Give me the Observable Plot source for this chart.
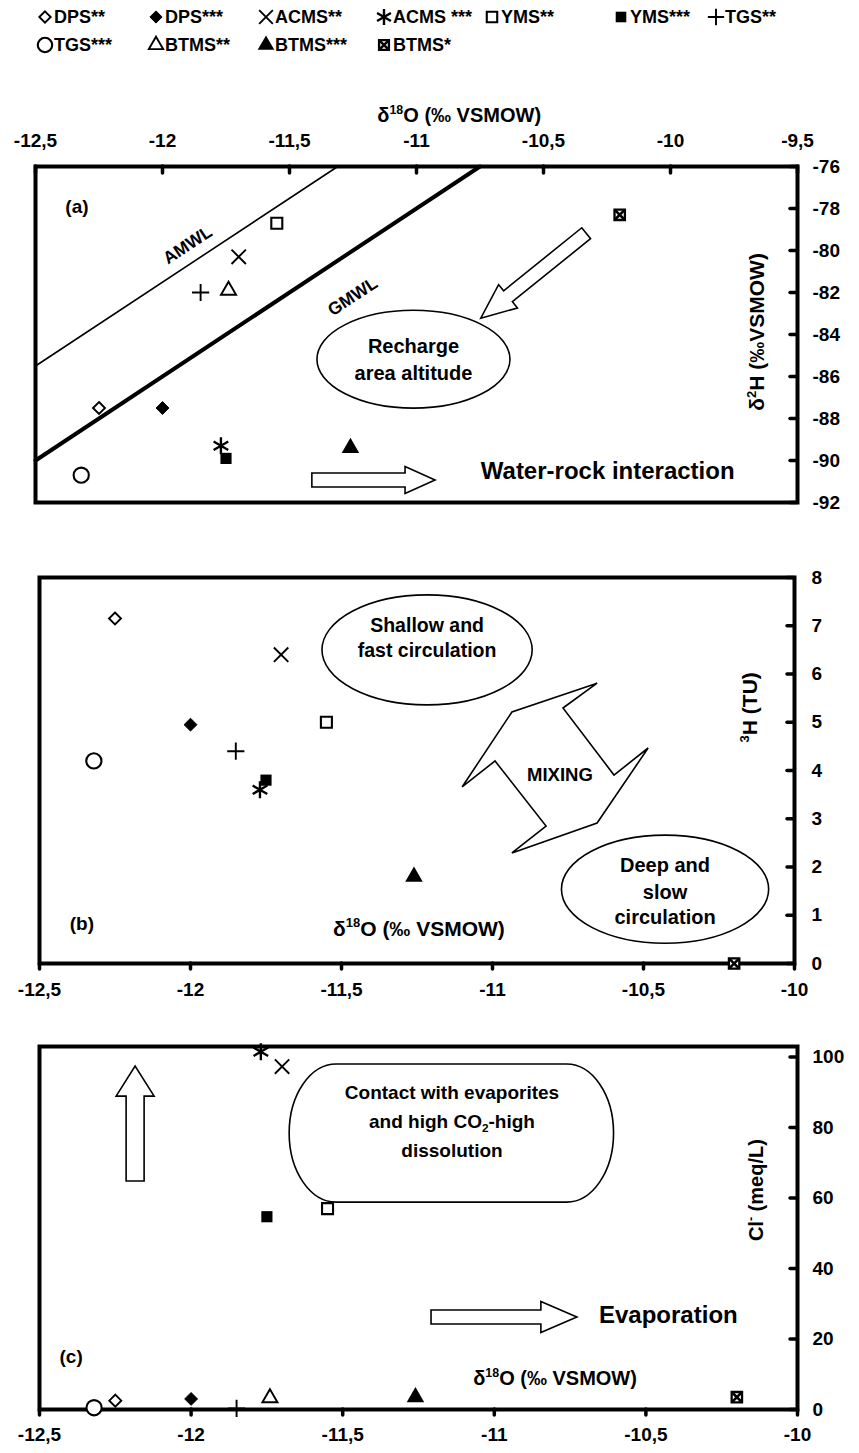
<!DOCTYPE html>
<html>
<head>
<meta charset="utf-8">
<script src="https://cdn.jsdelivr.net/npm/d3@7"></script>
<script src="https://cdn.jsdelivr.net/npm/@observablehq/plot@0.6"></script>
<style>
  html, body { margin: 0; padding: 0; background: #fff; }
  body { font-family: "Liberation Sans", Arial, Helvetica, sans-serif; }
  #root { position: relative; width: 859px; height: 1453px; overflow: hidden; }
  .panel { position: absolute; left: 0; }
  .lg { position: absolute; display: flex; align-items: center; font-weight: bold; font-size: 18px; white-space: pre; color: #000; }
  .lg svg { margin-right: 2px; overflow: visible; }
</style>
</head>
<body>
<div id="root"></div>
<script>
// ---------------- DATA ----------------
const series   = ["DPS**", "DPS***", "ACMS**", "ACMS ***", "YMS**", "YMS***", "TGS**", "TGS***", "BTMS**", "BTMS***", "BTMS*"];
const d18O     = [-12.25, -12.00, -11.70, -11.77, -11.55, -11.75, -11.85, -12.32, -11.74, -11.26, -10.20];
const d2H      = [-87.5, -87.5, -80.3, -89.3, -78.7, -89.9, -82.0, -90.7, -81.9, -89.4, -78.3];
const tritium  = [7.15, 4.95, 6.4, 3.6, 5.0, 3.8, 4.4, 4.2, null, 1.8, 0];
const chloride = [2.5, 3.0, 97.3, 101.5, 57.0, 54.7, 0.3, 0.5, 3.3, 3.5, 3.5];

// meteoric water lines (end points, ‰)
const amwlO = [-12.5, -11.31], amwlH = [-85.5, -76];
const gmwlO = [-12.5, -10.75], gmwlH = [-90, -76];

// tick values
const xTicksA = [-12.5, -12, -11.5, -11, -10.5, -10, -9.5];
const yTicksA = [-92, -90, -88, -86, -84, -82, -80, -78, -76];
const xTicksBC = [-12.5, -12, -11.5, -11, -10.5, -10];
const yTicksB = [0, 1, 2, 3, 4, 5, 6, 7, 8];
const yTicksC = [0, 20, 40, 60, 80, 100];

// ---------------- STYLES ----------------
const FONT = "Liberation Sans, Arial, Helvetica, sans-serif";
const seriesStyle = {
  "DPS**":    [{symbol: "diamond2", r: 5.4, fill: "white", stroke: "black", strokeWidth: 1.9}],
  "DPS***":   [{symbol: "diamond2", r: 5.8, fill: "black", stroke: "black", strokeWidth: 1}],
  "ACMS**":   [{symbol: "times", r: 6.6, fill: "none", stroke: "black", strokeWidth: 1.9}],
  "ACMS ***": [{symbol: "asterisk", r: 8, fill: "none", stroke: "black", strokeWidth: 2.4}],
  "YMS**":    [{symbol: "square2", r: 7, fill: "white", stroke: "black", strokeWidth: 2.1}],
  "YMS***":   [{symbol: "square", r: 6.3, fill: "black", stroke: "none"}],
  "TGS**":    [{symbol: "plus", r: 5.6, fill: "none", stroke: "black", strokeWidth: 1.9}],
  "TGS***":   [{symbol: "circle", r: 7.6, fill: "white", stroke: "black", strokeWidth: 2.1}],
  "BTMS**":   [{symbol: "triangle2", r: 7.2, fill: "white", stroke: "black", strokeWidth: 1.9}],
  "BTMS***":  [{symbol: "triangle", r: 6.5, fill: "black", stroke: "none"}],
  "BTMS*":    [{symbol: "square2", r: 6.6, fill: "white", stroke: "black", strokeWidth: 2.3},
               {symbol: "times", r: 4.8, fill: "none", stroke: "black", strokeWidth: 2.6}]
};
const d3Sym = {
  diamond2: d3.symbolDiamond2, times: d3.symbolTimes, asterisk: d3.symbolAsterisk,
  square2: d3.symbolSquare2, square: d3.symbolSquare, plus: d3.symbolPlus,
  circle: d3.symbolCircle, triangle2: d3.symbolTriangle2, triangle: d3.symbolTriangle
};
const fmt = d => String(d).replace(".", ",");

// ---------------- HELPERS ----------------
function parseRich(s) {
  const re = /([\^_])\{([^}]*)\}/g; const out = []; let last = 0, m;
  while ((m = re.exec(s))) {
    if (m.index > last) out.push({t: s.slice(last, m.index), k: 0});
    out.push({t: m[2], k: m[1] === "^" ? 1 : -1});
    last = re.lastIndex;
  }
  if (last < s.length) out.push({t: s.slice(last), k: 0});
  return out;
}
function richText(g, px, py, s, {size = 18, anchor = "middle", rotate = 0, weight = "bold"} = {}) {
  const t = g.append("text")
    .attr("transform", `translate(${px},${py}) rotate(${rotate})`)
    .attr("text-anchor", anchor).attr("font-family", FONT)
    .attr("font-size", size).attr("font-weight", weight).attr("fill", "black")
    .attr("y", size * 0.35);
  let shift = 0;
  for (const p of parseRich(s)) {
    const target = p.k === 1 ? -0.42 * size : p.k === -1 ? 0.25 * size : 0;
    const ts = t.append("tspan").text(p.t).attr("dy", target - shift);
    if (p.k) ts.attr("font-size", size * 0.62);
    shift = target;
  }
  return t;
}
function arrowPath(x1, y1, x2, y2, sw, hw, hl) {
  const dx = x2 - x1, dy = y2 - y1, L = Math.hypot(dx, dy), ux = dx / L, uy = dy / L, nx = -uy, ny = ux;
  const bx = x2 - ux * hl, by = y2 - uy * hl;
  const p = [[x1 + nx * sw / 2, y1 + ny * sw / 2], [bx + nx * sw / 2, by + ny * sw / 2], [bx + nx * hw / 2, by + ny * hw / 2],
             [x2, y2], [bx - nx * hw / 2, by - ny * hw / 2], [bx - nx * sw / 2, by - ny * sw / 2], [x1 - nx * sw / 2, y1 - ny * sw / 2]];
  return "M" + p.map(q => q.join(",")).join("L") + "Z";
}
// function mark that draws through the plot's scales
function annot(fn) {
  return (index, scales, values, dims) => {
    const g = d3.create("svg:g");
    fn(g, scales.x, scales.y, dims);
    return g.node();
  };
}
function ellipse(g, x, y, cx, cy, rx, ry) {
  g.append("ellipse").attr("cx", x(cx)).attr("cy", y(cy))
    .attr("rx", Math.abs(x(cx + rx) - x(cx))).attr("ry", Math.abs(y(cy + ry) - y(cy)))
    .attr("fill", "white").attr("stroke", "black").attr("stroke-width", 1.6);
}
function blockArrow(g, x, y, xa, ya, xb, yb, sw, hw, hl) {
  g.append("path").attr("d", arrowPath(x(xa), y(ya), x(xb), y(yb), sw, hw, hl))
    .attr("fill", "white").attr("stroke", "black").attr("stroke-width", 1.6).attr("stroke-linejoin", "miter");
}
function dotMarks(xs, ys) {
  const marks = [];
  series.forEach((s, i) => {
    if (ys[i] == null) return;
    for (const st of seriesStyle[s]) marks.push(Plot.dot([{x: xs[i], y: ys[i]}], {x: "x", y: "y", ...st}));
  });
  return marks;
}
function pairs(xs, ys) { return xs.map((x, i) => ({x, y: ys[i]})); }

const root = document.getElementById("root");
function place(svg, top) {
  const div = document.createElement("div");
  div.className = "panel"; div.style.top = top + "px";
  div.appendChild(svg); root.appendChild(div);
}
const common = {width: 859, style: {fontFamily: FONT, background: "white", overflow: "visible"}};
const tickText = {fontSize: 19, fontWeight: "bold", fill: "black"};

// ---------------- LEGEND ----------------
const legendPos = [[45,17],[156,17],[266,17],[384,17],[492,17],[621,17],[716,17],[45,45],[156,45],[266,45],[384,45]];
series.forEach((s, i) => {
  const [cx, cy] = legendPos[i];
  const item = document.createElement("div");
  item.className = "lg";
  item.style.left = (cx - 7) + "px"; item.style.top = (cy - 11) + "px"; item.style.height = "22px";
  const svg = d3.create("svg").attr("width", 14).attr("height", 14);
  for (const st of seriesStyle[s]) {
    svg.append("path").attr("transform", "translate(7,7)")
      .attr("d", d3.symbol(d3Sym[st.symbol], Math.PI * (st.r * 0.95) ** 2)())
      .attr("fill", st.fill).attr("stroke", st.stroke).attr("stroke-width", (st.strokeWidth || 0));
  }
  item.appendChild(svg.node());
  item.appendChild(document.createTextNode(s));
  root.appendChild(item);
});

// ---------------- PANEL (a) ----------------
{
  const H = 430, mt = 71, mb = 23, ml = 35, mr = 62;
  const fh = H - mt - mb, fw = 859 - ml - mr;
  const plotA = Plot.plot({
    ...common, height: H, marginTop: mt, marginBottom: mb, marginLeft: ml, marginRight: mr,
    x: {domain: [-12.5, -9.5], axis: null},
    y: {domain: [-92, -76], axis: null},
    marks: [
      Plot.line(pairs(amwlO, amwlH), {x: "x", y: "y", stroke: "black", strokeWidth: 1.6}),
      Plot.line(pairs(gmwlO, gmwlH), {x: "x", y: "y", stroke: "black", strokeWidth: 4}),
      annot((g, x, y) => {
        const angA = Math.atan2(y(amwlH[1]) - y(amwlH[0]), x(amwlO[1]) - x(amwlO[0])) * 180 / Math.PI;
        richText(g, x(-11.90), y(-79.75), "AMWL", {size: 17.5, rotate: angA});
        richText(g, x(-11.25), y(-82.2), "GMWL", {size: 17.5, rotate: angA});
        richText(g, x(-12.335), y(-77.9), "(a)", {size: 19});
        ellipse(g, x, y, -11.01, -85.2, 0.38, 2.33);
        richText(g, x(-11.01), y(-84.55), "Recharge", {size: 20});
        richText(g, x(-11.01), y(-85.85), "area altitude", {size: 20});
        blockArrow(g, x, y, -10.33, -79.2, -10.745, -83.25, 14, 30, 35);
        blockArrow(g, x, y, -11.41, -90.95, -10.925, -90.95, 14, 27, 30);
        richText(g, x(-10.745), y(-90.5), "Water-rock interaction", {size: 24, anchor: "start"});
      }),
      Plot.frame({stroke: "black", strokeWidth: 4}),
      Plot.tickX(xTicksA, {x: d => d, insetBottom: fh - 7, strokeWidth: 3.5, strokeLinecap: "round"}),
      Plot.tickY(yTicksA, {y: d => d, insetLeft: fw - 7, strokeWidth: 3.5, strokeLinecap: "round"}),
      Plot.text(xTicksA, {x: d => d, frameAnchor: "top", dy: -33, text: fmt, ...tickText}),
      Plot.text(yTicksA, {y: d => d, frameAnchor: "right", dx: 15, textAnchor: "start", text: fmt, ...tickText}),
      annot((g, x, y, dims) => {
        richText(g, x(-10.83), dims.marginTop - 51, "δ^{18}O (‰ VSMOW)", {size: 20});
        richText(g, dims.width - dims.marginRight - 40, y(-83.9), "δ^{2}H (‰VSMOW)", {size: 21, rotate: -90});
      }),
      ...dotMarks(d18O, d2H)
    ]
  });
  place(plotA, 95);
}

// ---------------- PANEL (b) ----------------
{
  const H = 490, mt = 52, mb = 52, ml = 39, mr = 65;
  const fh = H - mt - mb, fw = 859 - ml - mr;
  const plotB = Plot.plot({
    ...common, height: H, marginTop: mt, marginBottom: mb, marginLeft: ml, marginRight: mr,
    x: {domain: [-12.5, -10], axis: null},
    y: {domain: [0, 8], axis: null},
    marks: [
      annot((g, x, y) => {
        ellipse(g, x, y, -11.215, 6.49, 0.348, 1.14);
        richText(g, x(-11.215), y(7.0), "Shallow and", {size: 19.5});
        richText(g, x(-11.215), y(6.48), "fast circulation", {size: 19.5});
        ellipse(g, x, y, -10.427, 1.53, 0.343, 1.12);
        richText(g, x(-10.427), y(2.03), "Deep and", {size: 20});
        richText(g, x(-10.427), y(1.47), "slow", {size: 20});
        richText(g, x(-10.427), y(0.95), "circulation", {size: 20});
        const mix = [[-10.652, 5.80], [-10.765, 5.285], [-10.596, 3.896], [-10.483, 4.456], [-10.652, 2.902],
                     [-10.934, 2.280], [-10.821, 2.839], [-10.990, 4.187], [-11.099, 3.648], [-10.934, 5.202]];
        g.append("path").attr("d", "M" + mix.map(([a, b]) => x(a) + "," + y(b)).join("L") + "Z")
          .attr("fill", "white").attr("stroke", "black").attr("stroke-width", 1.6);
        richText(g, x(-10.775), y(3.9), "MIXING", {size: 18.5});
        richText(g, x(-12.358), y(0.83), "(b)", {size: 19});
        richText(g, x(-11.242), y(0.72), "δ^{18}O (‰ VSMOW)", {size: 21});
      }),
      Plot.frame({stroke: "black", strokeWidth: 4}),
      Plot.tickX(xTicksBC, {x: d => d, insetTop: fh, insetBottom: -6, strokeWidth: 3.5, strokeLinecap: "round"}),
      Plot.tickY(yTicksB, {y: d => d, insetLeft: fw - 7, strokeWidth: 3.5, strokeLinecap: "round"}),
      Plot.text(xTicksBC, {x: d => d, frameAnchor: "bottom", dy: 32, text: fmt, ...tickText}),
      Plot.text(yTicksB, {y: d => d, frameAnchor: "right", dx: 17, textAnchor: "start", text: fmt, ...tickText}),
      annot((g, x, y, dims) => {
        richText(g, dims.width - dims.marginRight - 44, y(5.3), "^{3}H (TU)", {size: 21, rotate: -90});
      }),
      ...dotMarks(d18O, tritium)
    ]
  });
  place(plotB, 525);
}

// ---------------- PANEL (c) ----------------
{
  const H = 438, mt = 31, mb = 44, ml = 39, mr = 62;
  const fh = H - mt - mb, fw = 859 - ml - mr;
  const plotC = Plot.plot({
    ...common, height: H, marginTop: mt, marginBottom: mb, marginLeft: ml, marginRight: mr,
    x: {domain: [-12.5, -10], axis: null},
    y: {domain: [0, 103], axis: null},
    marks: [
      annot((g, x, y) => {
        blockArrow(g, x, y, -12.183, 64.7, -12.183, 97.3, 18, 38, 30);
        // rounded "stadium" box
        const xl = x(-11.52), xr = x(-10.76), yt = y(97.9), yb = y(58.7);
        const rx = Math.abs(x(-11.52) - x(-11.675)), ry = (yb - yt) / 2;
        g.append("path")
          .attr("d", `M${xl},${yt}L${xr},${yt}A${rx},${ry} 0 0 1 ${xr},${yb}L${xl},${yb}A${rx},${ry} 0 0 1 ${xl},${yt}Z`)
          .attr("fill", "white").attr("stroke", "black").attr("stroke-width", 1.6);
        richText(g, x(-11.138), y(89.95), "Contact with evaporites", {size: 19});
        richText(g, x(-11.138), y(81.7), "and high CO_{2}-high", {size: 19});
        richText(g, x(-11.138), y(73.5), "dissolution", {size: 19});
        blockArrow(g, x, y, -11.207, 26.1, -10.726, 26.1, 14, 31, 36);
        richText(g, x(-10.653), y(26.7), "Evaporation", {size: 24, anchor: "start"});
        richText(g, x(-12.394), y(14.8), "(c)", {size: 19});
        richText(g, x(-10.798), y(8.8), "δ^{18}O (‰ VSMOW)", {size: 20});
      }),
      Plot.frame({stroke: "black", strokeWidth: 4}),
      Plot.tickX(xTicksBC, {x: d => d, insetTop: fh, insetBottom: -6, strokeWidth: 3.5, strokeLinecap: "round"}),
      Plot.tickY(yTicksC, {y: d => d, insetLeft: fw - 7, strokeWidth: 3.5, strokeLinecap: "round"}),
      Plot.text(xTicksBC, {x: d => d, frameAnchor: "bottom", dy: 31, text: fmt, ...tickText}),
      Plot.text(yTicksC, {y: d => d, frameAnchor: "right", dx: 15, textAnchor: "start", text: fmt, ...tickText}),
      annot((g, x, y, dims) => {
        richText(g, dims.width - dims.marginRight - 41, y(62.1), "Cl^{-} (meq/L)", {size: 20, rotate: -90});
      }),
      ...dotMarks(d18O, chloride)
    ]
  });
  place(plotC, 1015);
}
</script>
</body>
</html>
